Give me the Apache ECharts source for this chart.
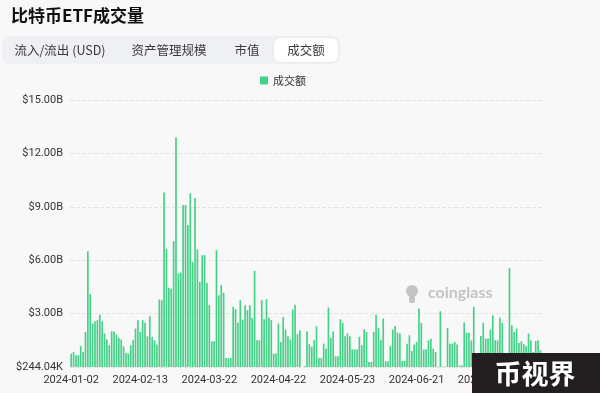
<!DOCTYPE html>
<html>
<head>
<meta charset="utf-8">
<script src="https://cdn.jsdelivr.net/npm/echarts@6/dist/echarts.min.js"></script>
<style>
  html, body { margin: 0; padding: 0; background: #f8f8f8; }
  #chart { width: 600px; height: 393px; }
</style>
</head>
<body>
<div id="chart"></div>
<script>
// 日期（按月列出日）
const janDays = [2, 3, 4, 5, 8, 9, 10, 11, 12, 16, 17, 18, 19, 22, 23, 24, 25, 26, 29, 30, 31]
const febDays = [1, 2, 5, 6, 7, 8, 9, 12, 13, 14, 15, 16, 19, 20, 21, 22, 23, 26, 27, 28, 29]
const marDays = [1, 4, 5, 6, 7, 8, 11, 12, 13, 14, 15, 16, 18, 19, 20, 21, 22, 23, 25, 26, 27, 28, 29, 30]
const aprDays = [1, 2, 3, 4, 5, 6, 7, 8, 9, 10, 11, 12, 13, 14, 15, 16, 17, 18, 19, 20, 21, 22, 23, 24, 25, 26, 27, 29, 30]
const mayDays = [1, 2, 3, 4, 6, 7, 8, 9, 10, 11, 12, 13, 14, 15, 16, 17, 18, 19, 20, 21, 22, 23, 24, 25, 26, 27, 28, 29, 30, 31]
const junDays = [1, 2, 3, 4, 5, 6, 7, 8, 9, 10, 11, 12, 13, 14, 15, 16, 17, 18, 19, 20, 21, 22, 23, 24, 25, 26, 27, 28, 29, 30]
const julDays = [1, 2, 3, 4, 5, 6, 7, 8, 9, 10, 11, 12, 13, 14, 15, 16, 17, 18, 19, 20, 21, 22, 23, 24, 25, 26, 27, 28, 29, 30, 31]
const augDays = [1, 2, 3, 4, 5, 6, 7, 8, 9, 10, 11, 12, 13]

// 成交额（单位：B 美元）
const volumeB = [
  0.75, 0.84, 0.66, 0.66, 1.18, 0.84, 1.97, 6.5, 4.1, 2.44,
  2.57, 2.63, 2.94, 2.57, 1.88, 1.54, 1.22, 2.0, 2.0, 1.82,
  1.63, 1.54, 1.16, 0.79, 0.75, 1.22, 1.5, 2.16, 2.63, 1.97,
  2.63, 2.48, 1.73, 2.85, 1.69, 1.5, 1.26, 3.79, 3.75, 9.8,
  6.62, 4.45, 4.4, 7.07, 12.9, 5.25, 5.3, 9.1, 9.1, 7.97,
  9.75, 5.9, 9.5, 6.6, 4.78, 6.28, 6.28, 4.72, 3.47, 1.44,
  1.44, 6.56, 4.03, 4.6, 4.17, 0.5, 0.5, 0.5, 3.38, 3.25,
  2.5, 3.75, 2.66, 3.47, 3.19, 3.47, 2.76, 5.4, 1.5, 1.5,
  3.75, 2.68, 3.81, 2.78, 2.63, 0.75, 0.75, 2.44, 1.41, 2.81,
  2.1, 1.73, 1.54, 3.23, 3.5, 1.84, 2.06, 0.000244, 0.05, 2.0,
  1.28, 1.13, 1.5, 2.29, 0.5, 0.5, 1.31, 1.03, 3.34, 1.63,
  2.0, 0.6, 0.6, 2.68, 2.48, 1.73, 1.88, 1.73, 0.99, 0.99,
  0.99, 1.69, 1.22, 2.1, 1.97, 0.28, 0.28, 1.97, 2.94, 2.2,
  1.5, 2.72, 0.32, 0.32, 1.18, 2.1, 2.31, 1.93, 1.88, 0.34,
  0.34, 1.31, 1.78, 0.9, 1.26, 1.41, 3.28, 2.48, 0.98, 0.98,
  1.5, 1.59, 1.03, 0.84, 0.02, 3.13, 0.02, 0.02, 2.2, 1.31,
  1.31, 1.41, 1.26, 0.09, 0.09, 2.5, 1.93, 1.91, 1.5, 3.38,
  0.4, 0.4, 1.74, 2.48, 1.6, 1.6, 2.1, 2.9, 1.5, 1.5,
  2.78, 2.48, 0.5, 0.5, 5.55, 2.34, 1.97, 2.16, 1.35, 1.44,
  1.28, 1.16, 1.88, 1.5, 0.84, 1.46, 1.5, 0.94, 0.66
]

const yTickLabels = ['$244.04K', '$3.00B', '$6.00B', '$9.00B', '$12.00B', '$15.00B']
const tabNames = ['流入/流出 (USD)', '资产管理规模', '市值', '成交额']

const pad = (n) => (n < 10 ? '0' + n : '' + n)
const months = [janDays, febDays, marDays, aprDays, mayDays, junDays, julDays, augDays]
const dates = []
months.forEach((days, m) => {
  days.forEach(d => dates.push('2024-' + pad(m + 1) + '-' + pad(d)))
})

const cjk = '"Noto Sans CJK SC", "Noto Sans", sans-serif'
const num = 'Roboto, "Noto Sans", sans-serif'

const chart = echarts.init(document.getElementById('chart'))

const tabX = [60, 169, 247, 306]
const tabGraphics = tabNames.map((name, i) => ({
  type: 'text',
  x: tabX[i],
  y: 50,
  z: 20,
  style: {
    text: name,
    fontSize: 12.5,
    fontFamily: cjk,
    fill: '#3a3a3a',
    align: 'center',
    verticalAlign: 'middle'
  }
}))

const option = {
  backgroundColor: '#f8f8f8',
  animation: false,
  title: {
    text: '比特币ETF成交量',
    left: 6,
    top: 2,
    textStyle: {
      fontSize: 17,
      fontWeight: 'bold',
      color: '#111',
      fontFamily: cjk
    }
  },
  legend: {
    data: ['成交额'],
    top: 70,
    left: 255,
    icon: 'rect',
    itemWidth: 8,
    itemHeight: 8,
    itemGap: 5,
    textStyle: { fontSize: 11, color: '#333', fontFamily: cjk }
  },
  grid: {
    left: 70,
    right: 56,
    top: 100,
    bottom: 26
  },
  xAxis: {
    type: 'category',
    data: dates,
    axisLine: { show: false },
    axisTick: { show: false },
    axisLabel: {
      interval: 28,
      margin: 8,
      fontSize: 11,
      color: '#333',
      fontFamily: num
    }
  },
  yAxis: {
    type: 'value',
    min: 0,
    max: 15,
    interval: 3,
    axisLabel: {
      margin: 7,
      fontSize: 11,
      color: '#333',
      fontFamily: num,
      formatter: (v) => yTickLabels[Math.round(v / 3)]
    },
    splitLine: {
      lineStyle: { type: 'dashed', color: '#e3e3e3' }
    }
  },
  series: [
    {
      name: '成交额',
      type: 'bar',
      data: volumeB,
      barCategoryGap: '30%',
      itemStyle: {
        color: '#45d087'
      }
    }
  ],
  graphic: [
    {
      type: 'rect',
      z: 10,
      shape: { x: 2, y: 36, width: 338, height: 28, r: 7 },
      style: { fill: '#eef0f3' }
    },
    {
      type: 'rect',
      z: 11,
      shape: { x: 274, y: 38, width: 64, height: 24, r: 6 },
      style: { fill: '#ffffff', shadowBlur: 2, shadowColor: 'rgba(0,0,0,0.08)' }
    },
    ...tabGraphics,
    {
      type: 'circle',
      z: 5,
      shape: { cx: 412, cy: 291, r: 6 },
      style: { fill: '#c4c4c4' }
    },
    {
      type: 'rect',
      z: 5,
      shape: { x: 409, y: 295, width: 6, height: 8, r: 2 },
      style: { fill: '#c4c4c4' }
    },
    {
      type: 'text',
      z: 5,
      x: 428,
      y: 293,
      style: {
        text: 'coinglass',
        fontSize: 16,
        fontWeight: 'bold',
        fontFamily: 'Lato, "Open Sans", sans-serif',
        fill: '#c4c4c4',
        verticalAlign: 'middle'
      }
    },
    {
      type: 'rect',
      z: 100,
      shape: { x: 472, y: 353, width: 128, height: 40 },
      style: { fill: '#231f20' }
    },
    {
      type: 'text',
      z: 101,
      x: 535,
      y: 374,
      style: {
        text: '币视界',
        fontSize: 27,
        fontWeight: 'bold',
        fontFamily: cjk,
        fill: '#ffffff',
        align: 'center',
        verticalAlign: 'middle'
      }
    }
  ]
}

chart.setOption(option)
</script>
</body>
</html>
